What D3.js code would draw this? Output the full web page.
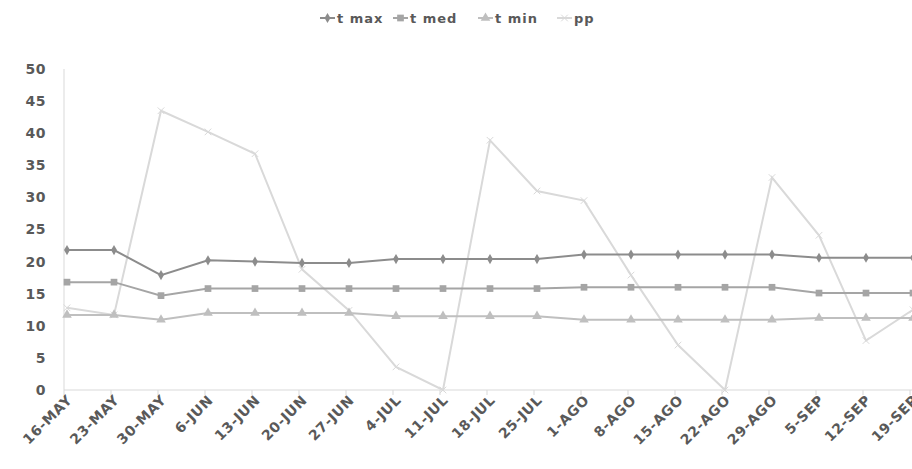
<!DOCTYPE html>
<html><head><meta charset="utf-8">
<script src="https://cdn.jsdelivr.net/npm/d3@7"></script>
<style>
body{margin:0;background:#fff;}
text{font-family:"DejaVu Sans",sans-serif;font-weight:bold;fill:#595959;}
</style></head>
<body><svg id="c" width="912" height="469"></svg>
<script>
const categories=["16-MAY","23-MAY","30-MAY","6-JUN","13-JUN","20-JUN","27-JUN","4-JUL","11-JUL","18-JUL","25-JUL","1-AGO","8-AGO","15-AGO","22-AGO","29-AGO","5-SEP","12-SEP","19-SEP"];
const tMax=[21.8,21.8,17.9,20.2,20.0,19.8,19.8,20.4,20.4,20.4,20.4,21.1,21.1,21.1,21.1,21.1,20.6,20.6,20.6];
const tMed=[16.8,16.8,14.7,15.8,15.8,15.8,15.8,15.8,15.8,15.8,15.8,16.0,16.0,16.0,16.0,16.0,15.1,15.1,15.1];
const tMin=[11.7,11.7,10.95,12.0,12.0,12.0,12.0,11.5,11.5,11.5,11.5,10.95,10.95,10.95,10.95,10.95,11.2,11.2,11.2];
const pp=[12.8,11.7,43.5,40.2,36.8,18.8,12.4,3.6,0,38.9,31.0,29.5,17.9,7.0,0,33.1,24.1,7.7,12.5];
const yTicks=[0,5,10,15,20,25,30,35,40,45,50];
const seriesNames=["t max","t med","t min","pp"];
const colors=["#8c8c8c","#a5a5a5","#bfbfbf","#d9d9d9"];
const symbols=[d3.symbolDiamond,d3.symbolSquare,d3.symbolTriangle,d3.symbolCross];

const svg=d3.select("#c");
const x=d3.scalePoint().domain(categories).range([67,913]);
const y=d3.scaleLinear().domain([0,50]).range([390,69]);

// axes lines
svg.append("line").attr("x1",64).attr("x2",64).attr("y1",69).attr("y2",390).attr("stroke","#d9d9d9");
svg.append("line").attr("x1",64).attr("x2",912).attr("y1",390).attr("y2",390).attr("stroke","#d9d9d9");
categories.forEach(c=>{
  svg.append("line").attr("x1",x(c)-3).attr("x2",x(c)-3).attr("y1",390).attr("y2",395).attr("stroke","#d9d9d9");
});
// y labels
svg.append("g").selectAll("text").data(yTicks).join("text")
  .attr("x",46).attr("y",d=>y(d)).attr("dy","0.35em").attr("text-anchor","end")
  .style("font-size","14px").style("letter-spacing","0.5px").text(d=>d);
// x labels
svg.append("g").selectAll("text").data(categories).join("text")
  .attr("text-anchor","end")
  .attr("transform",d=>`translate(${x(d)+6},${401}) rotate(-45)`)
  .style("font-size","14px").style("letter-spacing","0.6px").text(d=>d);

const series=[tMax,tMed,tMin,pp];
const line=d3.line().x((d,i)=>x(categories[i])).y(d=>y(d));
const drawOrder=[3,2,1,0];
drawOrder.forEach(k=>{
  svg.append("path").datum(series[k]).attr("d",line).attr("fill","none")
    .attr("stroke",colors[k]).attr("stroke-width",2);
});
function marker(g,k,cx,cy){
  if(k===3){
    g.append("path").attr("d",d3.symbol().type(d3.symbolX).size(30)())
      .attr("transform",`translate(${cx},${cy})`).attr("fill","none").attr("stroke",colors[k]).attr("stroke-width",1);
  } else {
    const sz=k===0?30:k===1?45:40;
    g.append("path").attr("d",d3.symbol().type(symbols[k]).size(sz)())
      .attr("transform",`translate(${cx},${cy})`).attr("fill",colors[k]);
  }
}
drawOrder.forEach(k=>{
  const g=svg.append("g");
  series[k].forEach((v,i)=>marker(g,k,x(categories[i]),y(v)));
});

// legend
const legX=[320,393,478,557];
seriesNames.forEach((n,k)=>{
  const g=svg.append("g");
  g.append("line").attr("x1",legX[k]).attr("x2",legX[k]+15).attr("y1",18).attr("y2",18).attr("stroke",colors[k]).attr("stroke-width",2);
  marker(g,k,legX[k]+7.5,18);
  g.append("text").attr("x",legX[k]+17).attr("y",18).attr("dy","0.35em").style("font-size","13px").style("letter-spacing","1px").text(n);
});
</script></body></html>
